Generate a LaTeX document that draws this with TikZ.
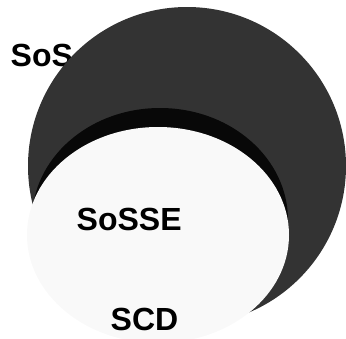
\documentclass[tikz,border=0pt]{standalone}
\usepackage{fontspec}
\setmainfont{Liberation Sans}
\begin{document}
\begin{tikzpicture}[x=1pt,y=-1pt,
  lbl/.style={inner sep=0pt, anchor=base west, font=\fontsize{32}{34}\selectfont\bfseries, text=black},
  darkset/.style={fill=black!80},
  shadowset/.style={fill=black!97},
  lightset/.style={fill=black!2.5}]
\useasboundingbox (0,0) rectangle (346,338);
\clip (0,0) rectangle (346,338);
\node[lbl] (sos) at (10.5,66) {SoS};
\fill[darkset] (187,166) circle[radius=159] coordinate (sosc);
\begin{scope}
  \clip (187,166) circle[radius=159];
  \fill[shadowset] (160,220) ellipse[x radius=128, y radius=112];
\end{scope}
\fill[lightset] (158,235) ellipse[x radius=131, y radius=108];
\node[lbl] (sosse) at (76.5,230) {SoSSE};
\node[lbl] (scd) at (110.5,330) {SCD};
\end{tikzpicture}
\end{document}
